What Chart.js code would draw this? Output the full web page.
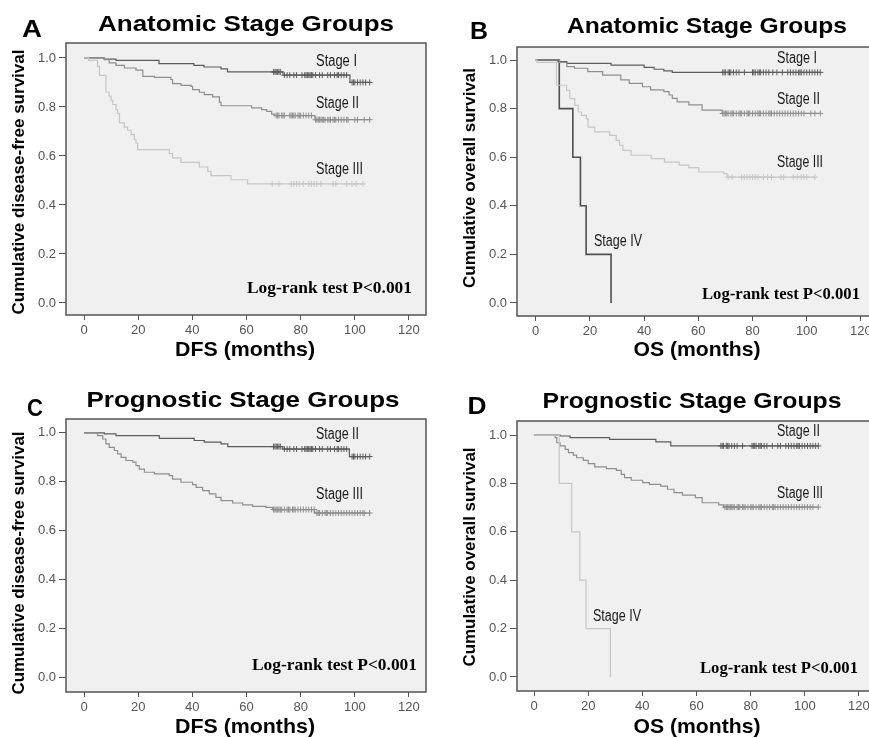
<!DOCTYPE html>
<html>
<head>
<meta charset="utf-8">
<script src="https://cdn.jsdelivr.net/npm/chart.js@4.4.1/dist/chart.umd.min.js"></script>
<style>
  html, body { margin: 0; padding: 0; background: #fff; overflow: hidden; width: 869px; height: 738px; position: relative; }
  canvas { position: absolute; }
</style>
</head>
<body>
<canvas id="chartA"></canvas>
<canvas id="chartB"></canvas>
<canvas id="chartC"></canvas>
<canvas id="chartD"></canvas>
<script>
const xTicks = [0, 20, 40, 60, 80, 100, 120];
const yTicks = [0.0, 0.2, 0.4, 0.6, 0.8, 1.0];

// A: anatomic stage, DFS
const aStage1Time = [0, 7.4, 11.8, 27.7, 40.6, 44.3, 50.6, 53.0, 73.5, 98.2];
const aStage1Surv = [1, 0.995, 0.99, 0.977, 0.97, 0.963, 0.955, 0.943, 0.93, 0.90];
const aStage1Cens = [70, 70.5, 71, 71.5, 72, 72.5, 74, 75, 76, 77.5, 78.5, 80.5, 81.5, 82, 82.5, 83, 83.5, 84, 84.5, 85.5, 87, 88, 90, 91, 92.5, 93.5, 94, 95, 96, 97, 99, 99.5, 100, 101, 102, 103, 104, 105.5];
const aStage2Time = [0, 7.5, 9.3, 11.8, 14.9, 19.2, 21.7, 26.0, 32.1, 32.7, 35.8, 39.5, 40.1, 42.6, 44.4, 47.5, 50.0, 50.6, 61.9, 65.6, 67.5, 69.3, 70.5, 85.3];
const aStage2Surv = [1, 0.993, 0.98, 0.97, 0.959, 0.95, 0.925, 0.921, 0.912, 0.895, 0.888, 0.884, 0.871, 0.86, 0.85, 0.841, 0.819, 0.805, 0.796, 0.789, 0.782, 0.771, 0.765, 0.748];
const aStage2Cens = [71, 71.5, 72, 73, 73.5, 74, 76, 76.5, 77, 77.5, 78, 79, 79.5, 80, 81, 82, 83, 84, 85.5, 86, 86.5, 87, 87.5, 88, 88.5, 89, 90, 90.5, 91, 92, 92.5, 93, 94, 95, 96, 97, 97.5, 100, 101, 103.5, 105.5];
const aStage3Time = [0, 1.7, 5.0, 5.7, 8.1, 9.3, 10.0, 10.6, 11.8, 12.4, 13.1, 14.9, 16.1, 17.4, 18.6, 19.2, 19.8, 31.5, 32.7, 35.8, 42.6, 45.7, 46.9, 54.3, 60.4];
const aStage3Surv = [1, 0.99, 0.966, 0.929, 0.86, 0.844, 0.827, 0.81, 0.789, 0.773, 0.735, 0.718, 0.705, 0.687, 0.667, 0.653, 0.626, 0.61, 0.592, 0.574, 0.555, 0.537, 0.52, 0.503, 0.486];
const aStage3Cens = [69.5, 72, 76.5, 77.5, 78.5, 79.5, 81, 83, 84, 85, 86, 87.5, 92, 93, 97, 99, 100.5, 103];

// B: anatomic stage, OS
const bStage1Time = [0, 8.2, 11.5, 27.8, 40, 43.7, 47.3, 50.4];
const bStage1Surv = [1, 0.993, 0.986, 0.979, 0.97, 0.962, 0.955, 0.949];
const bStage1Cens = [69, 69.5, 70, 71, 71.5, 72, 73, 74, 75, 77, 80, 80.5, 81, 82, 82.5, 83, 84, 85, 86, 87.5, 89, 91, 93, 94, 95, 96, 97, 97.5, 98, 99, 100, 101, 102, 103, 104, 105];
const bStage2Time = [0, 8.8, 11.5, 14.3, 19.2, 24.7, 31.4, 34.5, 39.4, 42.4, 47.3, 49.2, 50.4, 52.2, 56.5, 61.4, 68.8];
const bStage2Surv = [1, 0.99, 0.973, 0.966, 0.952, 0.938, 0.918, 0.904, 0.89, 0.877, 0.87, 0.856, 0.842, 0.828, 0.815, 0.794, 0.78];
const bStage2Cens = [69, 69.5, 70, 70.5, 71, 72, 72.5, 73, 74, 75, 75.5, 76, 77, 78, 78.5, 79, 80, 81, 82, 82.5, 83, 84, 85, 86, 86.5, 87, 88, 89, 90, 91, 92, 93, 94, 95, 96, 97, 98, 99, 101.5, 103, 105];
const bStage3Time = [0, 0.5, 7.7, 11.4, 12.6, 14.4, 15.7, 16.9, 18.7, 19.3, 21.8, 27.3, 29.7, 30.9, 32.2, 35.2, 42.6, 47.5, 53.0, 56.5, 60.2, 69.4, 70.6];
const bStage3Surv = [1, 0.99, 0.896, 0.875, 0.841, 0.813, 0.786, 0.772, 0.758, 0.724, 0.704, 0.69, 0.669, 0.649, 0.628, 0.608, 0.594, 0.58, 0.567, 0.557, 0.539, 0.532, 0.518];
const bStage3Cens = [71, 72.5, 76, 77, 78, 79, 80, 81, 82, 84, 85.5, 87, 90.5, 91.5, 95, 96.5, 98, 99, 100, 103];
const bStage4Time = [0, 8.7, 13.7, 16.5, 18.6, 27.8];
const bStage4Surv = [1, 0.8, 0.6, 0.4, 0.2, 0];

// C: prognostic stage, DFS
const cStage2Time = [0, 7.5, 11.8, 27.8, 40.7, 44.4, 50.6, 53.1, 73.4, 98];
const cStage2Surv = [1, 0.996, 0.989, 0.978, 0.969, 0.962, 0.955, 0.944, 0.934, 0.903];
const cStage2Cens = [70, 70.5, 71, 71.5, 72, 72.5, 74, 75, 76, 77.5, 78.5, 80.5, 81.5, 82, 82.5, 83, 83.5, 84, 84.5, 85.5, 87, 88, 90, 91, 92.5, 93.5, 94, 95, 96, 97, 99, 99.5, 100, 101, 102, 103, 104, 105.5];
const cStage3Time = [0, 5.0, 6.9, 8.1, 9.3, 11.2, 12.4, 13.7, 15.5, 18.0, 19.2, 20.4, 22.3, 26.0, 31.5, 32.7, 35.8, 40.1, 41.4, 43.8, 46.3, 48.7, 50.6, 54.9, 58.6, 62.3, 67.2, 69.7, 85.1];
const cStage3Surv = [1, 0.989, 0.975, 0.955, 0.941, 0.928, 0.914, 0.9, 0.887, 0.88, 0.866, 0.852, 0.839, 0.832, 0.825, 0.811, 0.798, 0.788, 0.777, 0.764, 0.75, 0.736, 0.723, 0.713, 0.705, 0.699, 0.695, 0.686, 0.672];
const cStage3Cens = [70, 70.5, 71, 71.5, 72, 72.5, 73, 74, 75, 75.5, 76, 77, 77.5, 78, 79, 80, 81, 82, 83, 84, 85, 86, 86.5, 87, 88, 89, 89.5, 90, 91, 92, 93, 94, 95, 96, 97, 98, 99, 100, 101, 102, 103, 103.5, 105.5];

// D: prognostic stage, OS
const dStage2Time = [0, 9.6, 13.3, 27.9, 45, 50.5];
const dStage2Surv = [1, 0.996, 0.989, 0.982, 0.972, 0.955];
const dStage2Cens = [69, 69.5, 70, 71, 71.5, 72, 73, 74, 75, 77, 80.5, 81, 81.5, 82, 83, 83.5, 84, 85, 86, 88, 90, 91, 93, 94, 95, 96, 97, 97.5, 98, 99, 100, 101, 102, 103, 104, 105];
const dStage3Time = [0, 7.8, 8.4, 9.6, 11.5, 12.7, 14.5, 15.7, 18.2, 20.0, 22.4, 26.7, 30.4, 32.2, 33.4, 35.9, 40.1, 42.6, 46.8, 49.3, 51.7, 54.8, 59.6, 62.1, 68.2, 70.0];
const dStage3Surv = [1, 0.989, 0.968, 0.955, 0.941, 0.927, 0.917, 0.906, 0.895, 0.882, 0.868, 0.861, 0.854, 0.837, 0.824, 0.813, 0.803, 0.796, 0.789, 0.776, 0.762, 0.752, 0.741, 0.72, 0.711, 0.702];
const dStage3Cens = [70.5, 71, 71.5, 72, 72.5, 73, 73.5, 74, 75, 75.5, 76, 77, 77.5, 78, 79, 80, 80.5, 81, 82, 83, 83.5, 84, 85, 86, 87, 88, 88.5, 89, 90, 91, 92, 93, 94, 95, 96, 97, 98, 99, 100, 101, 102, 103, 105];
const dStage4Time = [0, 9.3, 13.9, 16.9, 19.2, 28.2];
const dStage4Surv = [1, 0.8, 0.6, 0.4, 0.2, 0];

const SANS = '"Liberation Sans", Arial, sans-serif';
const SERIF = '"Liberation Serif", "Times New Roman", serif';
const DARK = "#5c5c5c";
const MID = "#8e8e8e";
const LIGHT = "#c6c6c6";

function survAt(times, surv, t) {
  let s = surv[0];
  times.forEach((tt, i) => { if (tt <= t) s = surv[i]; });
  return s;
}

function curve(times, surv, cens, color, width) {
  cens = cens || [];
  const pts = times.map((t, i) => ({ x: t, y: surv[i] }));
  const end = cens.length ? Math.max(...cens) : times[times.length - 1];
  if (end > times[times.length - 1]) pts.push({ x: end, y: surv[surv.length - 1] });
  const sets = [{
    data: pts,
    stepped: "before",
    borderColor: color,
    borderWidth: width || 1.2,
    pointRadius: 0,
    fill: false,
  }];
  if (cens.length) {
    sets.push({
      data: cens.map((t) => ({ x: t, y: survAt(times, surv, t) })),
      showLine: false,
      pointStyle: "cross",
      pointRadius: 3,
      borderColor: color,
      borderWidth: 1,
    });
  }
  return sets;
}

function logRank(x, y, w) {
  return { text: "Log-rank test P<0.001", x, y, font: "bold 16px " + SERIF, align: "left", w };
}
function stageLabel(text, x, y, w) {
  return { text, x, y, font: "16px " + SANS, align: "left", w, color: "#1a1a1a" };
}

const panels = [
  {
    id: "chartA", left: 0, top: 0, w: 435, h: 370,
    area: { l: 66, t: 43, r: 426, b: 315 }, xr: [-6.65, 126.3], yr: [-0.049, 1.061],
    datasets: [
      ...curve(aStage3Time, aStage3Surv, aStage3Cens, LIGHT),
      ...curve(aStage2Time, aStage2Surv, aStage2Cens, MID),
      ...curve(aStage1Time, aStage1Surv, aStage1Cens, DARK),
    ],
    texts: [
      { text: "A", x: 32, y: 30, font: "bold 24px " + SANS, align: "center", w: 20 },
      { text: "Anatomic Stage Groups", x: 246, y: 25, font: "bold 22px " + SANS, align: "center", w: 296 },
      { text: "Cumulative disease-free survival", x: 19, y: 182, font: "bold 17px " + SANS, align: "center", w: 265, rot: true },
      { text: "DFS (months)", x: 245, y: 350, font: "bold 21px " + SANS, align: "center", w: 140 },
      stageLabel("Stage I", 316, 62, 41),
      stageLabel("Stage II", 316, 104, 43),
      stageLabel("Stage III", 316, 170, 47),
      logRank(247, 289, 165),
    ],
  },
  {
    id: "chartB", left: 435, top: 0, w: 452, h: 370,
    area: { l: 517, t: 47, r: 878, b: 316 }, xr: [-6.9, 126.3], yr: [-0.0535, 1.0535],
    datasets: [
      ...curve(bStage3Time, bStage3Surv, bStage3Cens, LIGHT),
      ...curve(bStage2Time, bStage2Surv, bStage2Cens, MID),
      ...curve(bStage1Time, bStage1Surv, bStage1Cens, DARK),
      ...curve(bStage4Time, bStage4Surv, null, "#505050", 1.6),
    ],
    texts: [
      { text: "B", x: 479, y: 32, font: "bold 24px " + SANS, align: "center", w: 18 },
      { text: "Anatomic Stage Groups", x: 707, y: 27, font: "bold 22px " + SANS, align: "center", w: 280 },
      { text: "Cumulative overall survival", x: 470, y: 178, font: "bold 17px " + SANS, align: "center", w: 220, rot: true },
      { text: "OS (months)", x: 697, y: 350, font: "bold 21px " + SANS, align: "center", w: 127 },
      stageLabel("Stage I", 777, 59, 40),
      stageLabel("Stage II", 777, 100, 43),
      stageLabel("Stage III", 777, 163, 46),
      stageLabel("Stage IV", 594, 242, 48),
      logRank(702, 295, 158),
    ],
  },
  {
    id: "chartC", left: 0, top: 370, w: 435, h: 368,
    area: { l: 66, t: 419, r: 426, b: 692 }, xr: [-6.65, 126.3], yr: [-0.061, 1.057],
    datasets: [
      ...curve(cStage3Time, cStage3Surv, cStage3Cens, MID),
      ...curve(cStage2Time, cStage2Surv, cStage2Cens, DARK),
    ],
    texts: [
      { text: "C", x: 35, y: 409, font: "bold 24px " + SANS, align: "center", w: 16 },
      { text: "Prognostic Stage Groups", x: 243, y: 401, font: "bold 22px " + SANS, align: "center", w: 313 },
      { text: "Cumulative disease-free survival", x: 19, y: 563, font: "bold 17px " + SANS, align: "center", w: 263, rot: true },
      { text: "DFS (months)", x: 245, y: 727, font: "bold 21px " + SANS, align: "center", w: 140 },
      stageLabel("Stage II", 316, 435, 43),
      stageLabel("Stage III", 316, 495, 47),
      logRank(252, 666, 165),
    ],
  },
  {
    id: "chartD", left: 435, top: 370, w: 452, h: 368,
    area: { l: 517, t: 421, r: 876, b: 691 }, xr: [-6.3, 126.3], yr: [-0.058, 1.058],
    datasets: [
      ...curve(dStage4Time, dStage4Surv, null, LIGHT),
      ...curve(dStage3Time, dStage3Surv, dStage3Cens, MID),
      ...curve(dStage2Time, dStage2Surv, dStage2Cens, DARK),
    ],
    texts: [
      { text: "D", x: 477, y: 407, font: "bold 24px " + SANS, align: "center", w: 19 },
      { text: "Prognostic Stage Groups", x: 692, y: 402, font: "bold 22px " + SANS, align: "center", w: 299 },
      { text: "Cumulative overall survival", x: 470, y: 557, font: "bold 17px " + SANS, align: "center", w: 219, rot: true },
      { text: "OS (months)", x: 697, y: 727, font: "bold 21px " + SANS, align: "center", w: 127 },
      stageLabel("Stage II", 777, 432, 43),
      stageLabel("Stage III", 777, 494, 46),
      stageLabel("Stage IV", 593, 617, 48),
      logRank(700, 669, 158),
    ],
  },
];

const panelDecor = {
  id: "panelDecor",
  beforeDraw(chart) {
    const { ctx, chartArea: a } = chart;
    ctx.save();
    ctx.fillStyle = "#f0f0f0";
    ctx.fillRect(a.left, a.top, a.right - a.left, a.bottom - a.top);
    ctx.restore();
  },
  afterDraw(chart, args, opts) {
    const { ctx, chartArea: a } = chart;
    ctx.save();
    ctx.strokeStyle = "#555";
    ctx.lineWidth = 1.5;
    ctx.strokeRect(a.left, a.top, a.right - a.left, a.bottom - a.top);
    (opts.texts || []).forEach((t) => {
      ctx.save();
      ctx.font = t.font;
      ctx.fillStyle = t.color || "#000";
      ctx.textBaseline = "middle";
      ctx.textAlign = t.align;
      const sx = t.w ? t.w / ctx.measureText(t.text).width : 1;
      ctx.translate(t.x - opts.left, t.y - opts.top);
      if (t.rot) ctx.rotate(-Math.PI / 2);
      ctx.scale(sx, 1);
      ctx.fillText(t.text, 0, 0);
      ctx.restore();
    });
    ctx.restore();
  },
};

function buildPanel(p) {
  const el = document.getElementById(p.id);
  el.width = p.w;
  el.height = p.h;
  el.style.left = p.left + "px";
  el.style.top = p.top + "px";
  const axisH = 30;
  const tickFont = { family: SANS, size: 13 };
  new Chart(el, {
    type: "line",
    data: { datasets: p.datasets },
    plugins: [panelDecor],
    options: {
      responsive: false,
      animation: false,
      layout: {
        autoPadding: false,
        padding: {
          left: 0,
          top: p.area.t - p.top,
          right: p.left + p.w - p.area.r,
          bottom: p.top + p.h - p.area.b - axisH,
        },
      },
      plugins: {
        legend: { display: false },
        tooltip: { enabled: false },
        panelDecor: { texts: p.texts, left: p.left, top: p.top },
      },
      scales: {
        x: {
          type: "linear",
          min: p.xr[0],
          max: p.xr[1],
          afterFit: (s) => { s.height = axisH; },
          afterBuildTicks: (s) => { s.ticks = xTicks.map((v) => ({ value: v })); },
          ticks: { font: tickFont, color: "#555", padding: 3, maxRotation: 0, autoSkip: false },
          grid: { display: true, drawOnChartArea: false, drawTicks: true, tickLength: 5, color: "#555" },
          border: { display: false },
        },
        y: {
          type: "linear",
          min: p.yr[0],
          max: p.yr[1],
          afterFit: (s) => { s.width = p.area.l - p.left; },
          afterBuildTicks: (s) => { s.ticks = yTicks.map((v) => ({ value: v })); },
          ticks: { font: tickFont, color: "#555", padding: 3, autoSkip: false, callback: (v) => Number(v).toFixed(1) },
          grid: { display: true, drawOnChartArea: false, drawTicks: true, tickLength: 7, color: "#555" },
          border: { display: false },
        },
      },
    },
  });
}

panels.forEach(buildPanel);
</script>
</body>
</html>
